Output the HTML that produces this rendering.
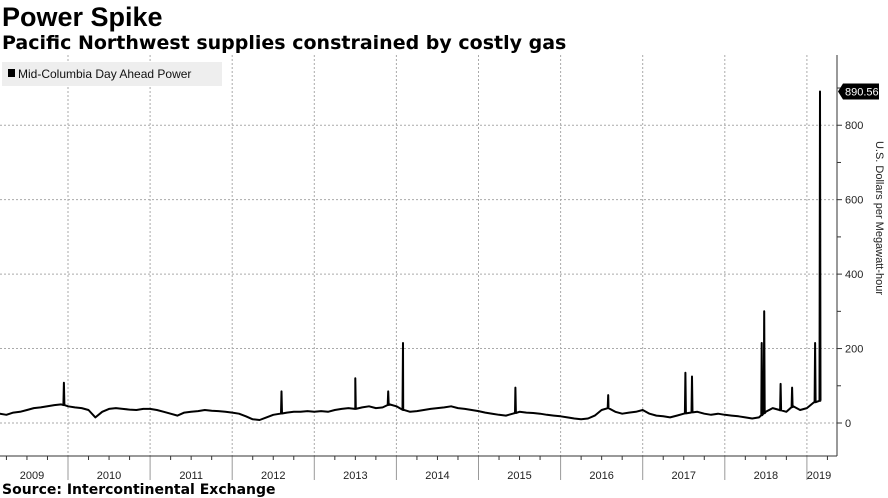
<!DOCTYPE html>
<html><head><meta charset="utf-8"><style>
body{margin:0;width:888px;height:496px;background:#fff;font-family:"Liberation Sans",sans-serif;overflow:hidden;position:relative}
.t{position:absolute;left:2px;top:2px;font-size:27px;font-weight:bold;color:#000}
.s{position:absolute;left:2px;top:32px;font-size:19px;font-weight:bold;color:#000;font-family:"DejaVu Sans",sans-serif}
.src{position:absolute;left:2px;top:482px;font-size:14px;font-weight:bold;font-family:"DejaVu Sans",sans-serif}
svg{position:absolute;left:0;top:0}
</style></head><body>
<div class="t">Power Spike</div>
<div class="s">Pacific Northwest supplies constrained by costly gas</div>
<svg id="c" width="888" height="496"></svg>
<div class="src">Source: Intercontinental Exchange</div>
<script>
const startYear=2009+1/12;
const monthly=[30,25,22,28,30,35,40,42,45,48,50,
45,42,40,35,15,30,38,40,38,36,35,38,
38,35,30,25,20,28,30,32,35,33,32,30,
28,25,18,10,8,15,22,25,28,30,30,32,
30,32,30,35,38,40,38,42,45,40,42,50,
45,35,30,32,35,38,40,42,45,40,38,35,
32,28,25,22,20,25,30,28,27,25,22,20,
18,15,12,10,12,20,35,40,30,25,28,30,
35,25,20,18,15,20,25,28,30,25,22,25,
22,20,18,15,12,15,30,40,35,30,45,35,
40,55,60];
const spikeTimes=[2009.95,2012.6,2013.5,2013.9,2014.08,2015.45,2016.58,2017.52,2017.6,2018.45,2018.48,2018.68,2018.82,2019.1,2019.16];
const spikeValues=[108,85,120,85,215,95,75,135,125,215,300,105,95,215,890.56];
const yTicks=[0,200,400,600,800];
const years=[2009,2010,2011,2012,2013,2014,2015,2016,2017,2018,2019];
const NS="http://www.w3.org/2000/svg";
const svg=document.getElementById('c');
const X=t=>68+(t-2010)*82.1;
const Y=v=>423-v*0.3722;
function el(tag,a,p){const e=document.createElementNS(NS,tag);for(const k in a)e.setAttribute(k,a[k]);(p||svg).appendChild(e);return e;}
yTicks.forEach(v=>{const g=el('line',{x1:0,x2:837,y1:Y(v),y2:Y(v),stroke:'#aaa','stroke-dasharray':'2,2','stroke-width':1});


el('line',{x1:837,x2:842,y1:Y(v),y2:Y(v),stroke:'#333'});
const lb=el('text',{x:845,y:Y(v)+4,'font-size':11,fill:'#222'});lb.textContent=v;


if(v<800){el('line',{x1:837,x2:841,y1:Y(v+100),y2:Y(v+100),stroke:'#333'});}
});
el('line',{x1:837,x2:841,y1:Y(900),y2:Y(900),stroke:'#333'});
years.forEach(yr=>{const x=X(yr+1);
if(yr<2019){const g=el('line',{x1:x,x2:x,y1:55,y2:456,stroke:'#aaa','stroke-dasharray':'2,2'});


el('line',{x1:x,x2:x,y1:456,y2:480,stroke:'#999'});}
for(let q=1;q<4;q++){const xx=X(yr+q/4);if(xx>0&&xx<837)el('line',{x1:xx,x2:xx,y1:456,y2:460,stroke:'#333'});}
const cx=Math.max(X(yr+0.5),yr==2009?32:0);const lx=yr==2019?819:cx;
const lb=el('text',{x:lx,y:479,'font-size':11,fill:'#222','text-anchor':'middle'});lb.textContent=yr;


});
el('line',{x1:837,x2:837,y1:55,y2:456,stroke:'#333'});
el('line',{x1:0,x2:837,y1:456,y2:456,stroke:'#333'});
let pts=monthly.map((v,i)=>[startYear+i/12,v]);
function base(t){let i=Math.floor((t-startYear)*12);i=Math.max(0,Math.min(monthly.length-2,i));const f=(t-startYear)*12-i;return monthly[i]*(1-f)+monthly[i+1]*f;}
spikeTimes.forEach((t,i)=>{pts.push([t-0.006,base(t)],[t,spikeValues[i]],[t+0.006,base(t)]);});
pts.sort((a,b)=>a[0]-b[0]);
const ln=el('path',{d:'M'+pts.map(p=>X(p[0]).toFixed(1)+','+Y(p[1]).toFixed(1)).join('L'),fill:'none',stroke:'#000','stroke-width':2,'stroke-linejoin':'round'});


const lv=spikeValues[spikeValues.length-1];
el('path',{d:`M838,${Y(lv)} L843,${Y(lv)-8} L879,${Y(lv)-8} L879,${Y(lv)+8} L843,${Y(lv)+8}Z`,fill:'#000'});
const vl=el('text',{x:845,y:Y(lv)+4,'font-size':11,fill:'#fff'});vl.textContent=lv.toFixed(2);


const lg=el('rect',{x:2,y:62,width:220,height:24,fill:'#eee'});


el('rect',{x:8,y:69,width:7,height:8,fill:'#000'});
const lt=el('text',{x:18,y:78,'font-size':12,fill:'#111'});lt.textContent='Mid-Columbia Day Ahead Power';


const yt=el('text',{x:0,y:0,'font-size':11,fill:'#222','text-anchor':'middle',transform:'translate(876 218) rotate(90)'});
yt.textContent='U.S. Dollars per Megawatt-hour';


</script>
</body></html>
